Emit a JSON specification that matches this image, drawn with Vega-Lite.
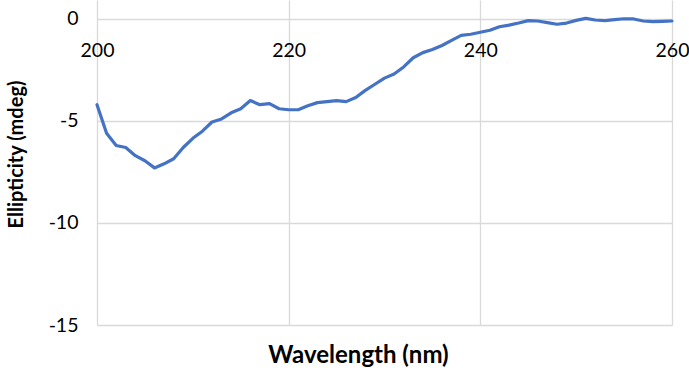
{
  "$schema": "https://vega.github.io/schema/vega-lite/v6.json",
  "autosize": "none",
  "width": 575,
  "height": 325,
  "padding": {"left": 97, "top": 0, "right": 17, "bottom": 46},
  "config": {"view": {"stroke": null}, "font": "Lato"},
  "data": {"values": [
    {"wavelength": 200, "ellipticity": -4.2},
    {"wavelength": 201, "ellipticity": -5.6},
    {"wavelength": 202, "ellipticity": -6.2},
    {"wavelength": 203, "ellipticity": -6.3},
    {"wavelength": 204, "ellipticity": -6.7},
    {"wavelength": 205, "ellipticity": -6.95},
    {"wavelength": 206, "ellipticity": -7.3},
    {"wavelength": 207, "ellipticity": -7.1},
    {"wavelength": 208, "ellipticity": -6.85},
    {"wavelength": 209, "ellipticity": -6.3},
    {"wavelength": 210, "ellipticity": -5.85},
    {"wavelength": 211, "ellipticity": -5.5},
    {"wavelength": 212, "ellipticity": -5.05},
    {"wavelength": 213, "ellipticity": -4.9},
    {"wavelength": 214, "ellipticity": -4.6},
    {"wavelength": 215, "ellipticity": -4.4},
    {"wavelength": 216, "ellipticity": -4.0},
    {"wavelength": 217, "ellipticity": -4.2},
    {"wavelength": 218, "ellipticity": -4.15},
    {"wavelength": 219, "ellipticity": -4.4},
    {"wavelength": 220, "ellipticity": -4.45},
    {"wavelength": 221, "ellipticity": -4.45},
    {"wavelength": 222, "ellipticity": -4.25},
    {"wavelength": 223, "ellipticity": -4.1},
    {"wavelength": 224, "ellipticity": -4.05},
    {"wavelength": 225, "ellipticity": -4.0},
    {"wavelength": 226, "ellipticity": -4.05},
    {"wavelength": 227, "ellipticity": -3.85},
    {"wavelength": 228, "ellipticity": -3.5},
    {"wavelength": 229, "ellipticity": -3.2},
    {"wavelength": 230, "ellipticity": -2.9},
    {"wavelength": 231, "ellipticity": -2.7},
    {"wavelength": 232, "ellipticity": -2.35},
    {"wavelength": 233, "ellipticity": -1.9},
    {"wavelength": 234, "ellipticity": -1.65},
    {"wavelength": 235, "ellipticity": -1.5},
    {"wavelength": 236, "ellipticity": -1.3},
    {"wavelength": 237, "ellipticity": -1.05},
    {"wavelength": 238, "ellipticity": -0.8},
    {"wavelength": 239, "ellipticity": -0.75},
    {"wavelength": 240, "ellipticity": -0.65},
    {"wavelength": 241, "ellipticity": -0.55},
    {"wavelength": 242, "ellipticity": -0.38},
    {"wavelength": 243, "ellipticity": -0.3},
    {"wavelength": 244, "ellipticity": -0.2},
    {"wavelength": 245, "ellipticity": -0.08},
    {"wavelength": 246, "ellipticity": -0.1},
    {"wavelength": 247, "ellipticity": -0.18},
    {"wavelength": 248, "ellipticity": -0.26},
    {"wavelength": 249, "ellipticity": -0.2},
    {"wavelength": 250, "ellipticity": -0.07},
    {"wavelength": 251, "ellipticity": 0.03},
    {"wavelength": 252, "ellipticity": -0.05},
    {"wavelength": 253, "ellipticity": -0.08},
    {"wavelength": 254, "ellipticity": -0.03},
    {"wavelength": 255, "ellipticity": 0.01},
    {"wavelength": 256, "ellipticity": 0.0},
    {"wavelength": 257, "ellipticity": -0.1},
    {"wavelength": 258, "ellipticity": -0.13},
    {"wavelength": 259, "ellipticity": -0.12},
    {"wavelength": 260, "ellipticity": -0.1}
  ]},
  "mark": {"type": "line", "color": "#4472C4", "strokeWidth": 3.2, "strokeJoin": "round", "strokeCap": "round"},
  "encoding": {
    "x": {
      "field": "wavelength", "type": "quantitative",
      "scale": {"domain": [200, 260], "nice": false, "zero": false},
      "axis": {
        "orient": "bottom", "offset": -306, "values": [200, 220, 240, 260],
        "domain": false, "ticks": false, "grid": true, "gridColor": "#d9d9d9", "gridWidth": 1.3,
        "labelFont": "Lato", "labelFontSize": 19.5, "labelColor": "#000", "labelPadding": 22, "labelFlush": false,
        "title": "Wavelength (nm)", "titleFont": "Lato", "titleFontSize": 24, "titleFontWeight": "bold", "titleColor": "#000",
        "titleX": 261, "titleAlign": "center", "titleY": 343, "titleBaseline": "alphabetic"
      }
    },
    "y": {
      "field": "ellipticity", "type": "quantitative",
      "scale": {"domain": [-15, 0.93], "nice": false, "zero": false},
      "axis": {
        "values": [-15, -10, -5, 0],
        "labelExpr": "toString(datum.value)",
        "domain": false, "ticks": false, "grid": true, "gridColor": "#d9d9d9", "gridWidth": 1.3,
        "labelFont": "Lato", "labelFontSize": 19.5, "labelColor": "#000", "labelPadding": 19,
        "title": "Ellipticity (mdeg)", "titleFont": "Lato", "titleFontSize": 20, "titleFontWeight": "bold", "titleColor": "#000",
        "titleX": -81, "titleY": 154, "titleAlign": "center", "titleBaseline": "middle"
      }
    }
  }
}
